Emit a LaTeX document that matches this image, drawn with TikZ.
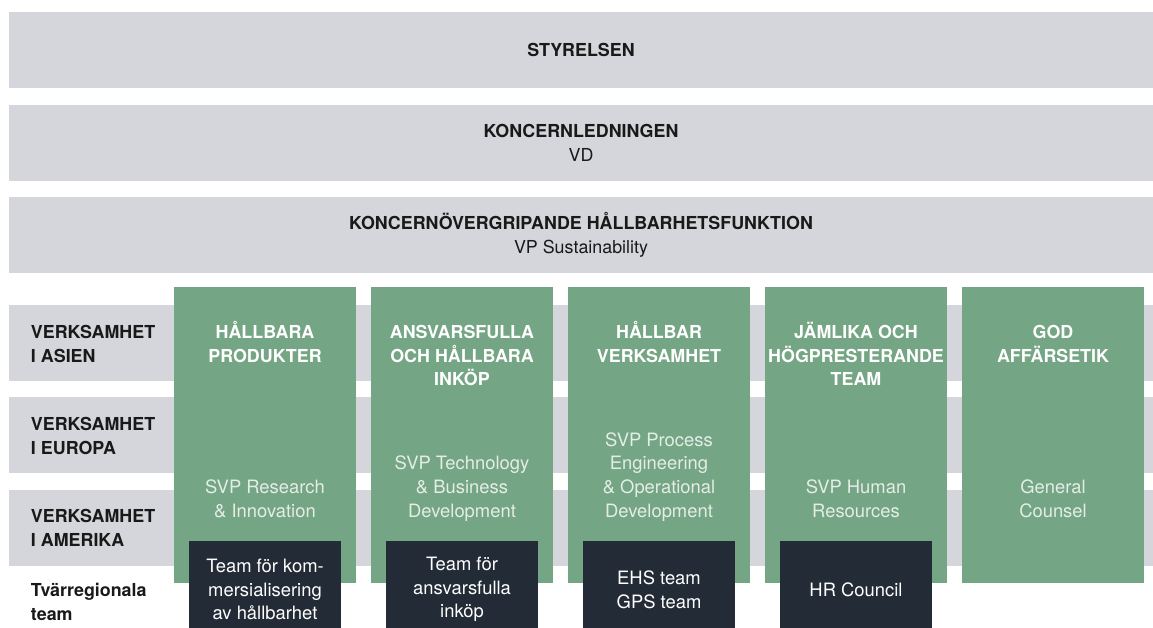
\documentclass[tikz,border=0pt]{standalone}
\usepackage{fontspec}
\setmainfont{TeX Gyre Heros}
\definecolor{bandgray}{HTML}{D5D6DB}
\definecolor{pillargreen}{HTML}{74A584}
\definecolor{teamdark}{HTML}{222B36}
\definecolor{softwhite}{HTML}{E4EDE6}
\begin{document}
\begin{tikzpicture}[x=0.75pt,y=-0.75pt,
  every node/.style={inner sep=0pt,outer sep=0pt},
  band/.style={fill=bandgray,minimum width=858pt,minimum height=57pt,align=center,text=black!90,font=\fontsize{13.4}{17.7}\selectfont},
  rowbar/.style={fill=bandgray,minimum width=858pt,minimum height=57pt},
  rowlabel/.style={anchor=base west,align=left,text=black!90,font=\fontsize{13.4}{17.7}\selectfont\bfseries},
  pillar/.style={fill=pillargreen,minimum width=136.5pt,minimum height=222pt},
  head/.style={anchor=base,align=center,text=white,font=\fontsize{13.4}{17.7}\selectfont\bfseries},
  body/.style={anchor=base,align=center,text=softwhite,font=\fontsize{13.8}{17.7}\selectfont},
  teambox/.style={fill=teamdark,minimum width=114pt,minimum height=72.75pt,align=center,text=white,font=\fontsize{13.8}{17.7}\selectfont}]
\useasboundingbox (0,0) rectangle (1153,628);
% ledning
\node[band] (board) at (581,50) {\bfseries STYRELSEN};
\node[band] (mgmt) at (581,143) {{\bfseries KONCERNLEDNINGEN}\\VD};
\node[band] (susfn) at (581,235) {{\bfseries KONCERNÖVERGRIPANDE HÅLLBARHETSFUNKTION}\\VP Sustainability};
% regioner
\node[rowbar] (asia) at (581,343) {};
\node[rowbar] (europe) at (581,435) {};
\node[rowbar] (america) at (581,528) {};
\node[rowlabel] (asialbl) at (31,362) {VERKSAMHET\\I ASIEN};
\node[rowlabel] (europelbl) at (31,454) {VERKSAMHET\\I EUROPA};
\node[rowlabel] (americalbl) at (31,546.5) {VERKSAMHET\\I AMERIKA};
\node[rowlabel] (teamlbl) at (31,620) {Tvärregionala\\team};
% fokusområden
\node[pillar] (prod) at (265,435) {};
\node[head] (prodhead) at (265,362) {HÅLLBARA\\PRODUKTER};
\node[body] (prodsvp) at (265,517) {SVP Research\\\& Innovation};
\node[pillar] (buy) at (462,435) {};
\node[head] (buyhead) at (462,385.6) {ANSVARSFULLA\\OCH HÅLLBARA\\INKÖP};
\node[body] (buysvp) at (462,517) {SVP Technology\\\& Business\\Development};
\node[pillar] (ops) at (659,435) {};
\node[head] (opshead) at (659,362) {HÅLLBAR\\VERKSAMHET};
\node[body] (opssvp) at (659,517) {SVP Process\\Engineering\\\& Operational\\Development};
\node[pillar] (people) at (856,435) {};
\node[head] (peoplehead) at (856,385.6) {JÄMLIKA OCH\\HÖGPRESTERANDE\\TEAM};
\node[body] (peoplesvp) at (856,517) {SVP Human\\Resources};
\node[pillar] (ethics) at (1053,435) {};
\node[head] (ethicshead) at (1053,362) {GOD\\AFFÄRSETIK};
\node[body] (ethicssvp) at (1053,517) {General\\Counsel};
% tvärregionala team
\node[teambox] (prodteam) at (265,589.5) {Team för kom-\\mersialisering\\av hållbarhet};
\node[teambox] (buyteam) at (462,589.5) {Team för\\ansvarsfulla\\inköp};
\node[teambox] (opsteam) at (659,589.5) {EHS team\\GPS team};
\node[teambox] (peopleteam) at (856,589.5) {HR Council};
\end{tikzpicture}
\end{document}
